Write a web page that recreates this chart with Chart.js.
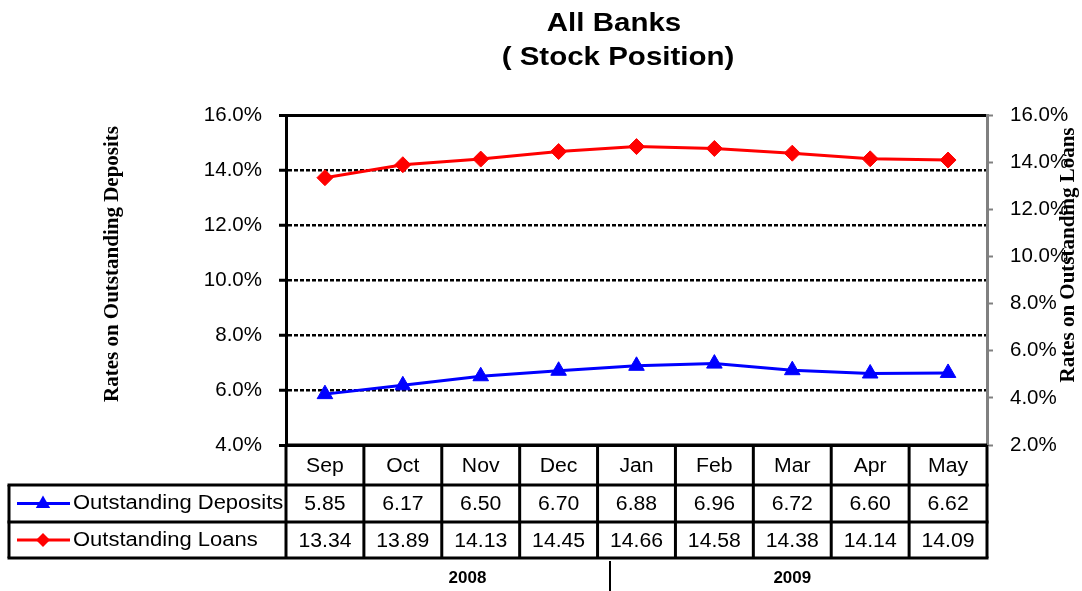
<!DOCTYPE html>
<html>
<head>
<meta charset="utf-8">
<script src="https://cdn.jsdelivr.net/npm/chart.js@4/dist/chart.umd.min.js"></script>
<style>
html,body{margin:0;padding:0;background:#fff;}
canvas{display:block;}
</style>
</head>
<body>
<canvas id="c" width="1082" height="591"></canvas>
<script>
const months = ['Sep','Oct','Nov','Dec','Jan','Feb','Mar','Apr','May'];
const deposits = [5.85,6.17,6.50,6.70,6.88,6.96,6.72,6.60,6.62];
const loans = [13.34,13.89,14.13,14.45,14.66,14.58,14.38,14.14,14.09];
const depositLabels = ['5.85','6.17','6.50','6.70','6.88','6.96','6.72','6.60','6.62'];
const loanLabels = ['13.34','13.89','14.13','14.45','14.66','14.58','14.38','14.14','14.09'];
const years = ['2008','2009'];
const titleLines = ['All Banks','( Stock Position)'];
const seriesNames = ['Outstanding Deposits','Outstanding Loans'];
const leftAxisTitle = 'Rates on Outstanding Deposits';
const rightAxisTitle = 'Rates on Outstanding Loans';

function txt(ctx, s, x, y, font, align, sx) {
  ctx.save();
  ctx.font = font;
  ctx.fillStyle = '#000';
  ctx.textAlign = align;
  ctx.textBaseline = 'middle';
  ctx.translate(x, y);
  ctx.scale(sx, 1);
  ctx.fillText(s, 0, 0);
  ctx.restore();
}
function vtxt(ctx, s, x, y, font) {
  ctx.save();
  ctx.font = font;
  ctx.fillStyle = '#000';
  ctx.textAlign = 'center';
  ctx.textBaseline = 'middle';
  ctx.translate(x, y);
  ctx.rotate(-Math.PI / 2);
  ctx.fillText(s, 0, 0);
  ctx.restore();
}
function line(ctx, x1, y1, x2, y2, w, color) {
  ctx.save();
  ctx.beginPath();
  ctx.lineWidth = w;
  ctx.strokeStyle = color || '#000';
  ctx.moveTo(x1, y1);
  ctx.lineTo(x2, y2);
  ctx.stroke();
  ctx.restore();
}

const extrasPlugin = {
  id: 'extras',
  afterDraw(chart) {
    const ctx = chart.ctx;
    const ca = chart.chartArea;
    const xs = chart.scales.x;
    const n = months.length;
    const cw = (ca.right - ca.left) / n;
    // titles
    txt(ctx, titleLines[0], 614, 24, 'bold 25px Arial, "Liberation Sans", sans-serif', 'center', 1.18);
    txt(ctx, titleLines[1], 618, 58, 'bold 25px Arial, "Liberation Sans", sans-serif', 'center', 1.18);
    // axis titles
    vtxt(ctx, leftAxisTitle, 113, 264, 'bold 21px "Times New Roman", "Liberation Serif", serif');
    vtxt(ctx, rightAxisTitle, 1069, 255, 'bold 21px "Times New Roman", "Liberation Serif", serif');

    // table
    const top = ca.bottom;
    const r1 = top + 40, r2 = r1 + 37, r3 = r2 + 36;
    const legL = 9;
    const font = '20px Arial, "Liberation Sans", sans-serif';
    line(ctx, legL - 1.5, r1, ca.right + 1.5, r1, 3);
    line(ctx, legL - 1.5, r2, ca.right + 1.5, r2, 3);
    line(ctx, legL - 1.5, r3, ca.right + 1.5, r3, 3);
    line(ctx, ca.left, top, ca.right, top, 3);
    line(ctx, legL, r1, legL, r3, 3);
    for (let k = 0; k <= n; k++) {
      const xx = ca.left + k * cw;
      line(ctx, xx, top, xx, r3, 3);
    }
    for (let i = 0; i < n; i++) {
      const cx = xs.getPixelForValue(i);
      txt(ctx, months[i], cx, (top + r1) / 2 + 1, font, 'center', 1.06);
      txt(ctx, depositLabels[i], cx, (r1 + r2) / 2 + 1, font, 'center', 1.06);
      txt(ctx, loanLabels[i], cx, (r2 + r3) / 2 + 1, font, 'center', 1.06);
    }
    // legend keys
    const ds = chart.data.datasets;
    const rows = [(r1 + r2) / 2, (r2 + r3) / 2];
    for (let j = 0; j < 2; j++) {
      const y = rows[j];
      const col = ds[j].borderColor;
      line(ctx, 17, y, 70, y, 3, col);
      ctx.save();
      ctx.fillStyle = col;
      ctx.beginPath();
      if (j === 0) {
        const r = 8;
        ctx.moveTo(43, y - r);
        ctx.lineTo(43 + r * 0.9, y + r * 0.55);
        ctx.lineTo(43 - r * 0.9, y + r * 0.55);
      } else {
        const r = 7;
        ctx.moveTo(43, y - r);
        ctx.lineTo(43 + r, y);
        ctx.lineTo(43, y + r);
        ctx.lineTo(43 - r, y);
      }
      ctx.closePath();
      ctx.fill();
      ctx.restore();
      txt(ctx, seriesNames[j], 73, y, font, 'left', 1.1);
    }
    // years
    const janLeft = ca.left + 4 * cw;
    const sepX = janLeft + cw * 0.16;
    line(ctx, sepX, r3 + 3, sepX, 591, 2);
    const y2008 = (xs.getPixelForValue(0) + sepX) / 2;
    const y2009 = (xs.getPixelForValue(4) + xs.getPixelForValue(8)) / 2;
    txt(ctx, years[0], y2008, 579, 'bold 16px Arial, "Liberation Sans", sans-serif', 'center', 1.06);
    txt(ctx, years[1], y2009, 579, 'bold 16px Arial, "Liberation Sans", sans-serif', 'center', 1.06);
  }
};

const tickFont = {family: 'Arial, "Liberation Sans", sans-serif', size: 20.5};

new Chart(document.getElementById('c'), {
  type: 'line',
  data: {
    labels: months,
    datasets: [
      {
        label: seriesNames[0], data: deposits, yAxisID: 'y',
        borderColor: '#0000FF', backgroundColor: '#0000FF',
        borderWidth: 3, pointStyle: 'triangle', pointRadius: 9,
        pointBorderWidth: 1, pointHoverRadius: 9, tension: 0, clip: false
      },
      {
        label: seriesNames[1], data: loans, yAxisID: 'y2',
        borderColor: '#FF0000', backgroundColor: '#FF0000',
        borderWidth: 3, pointStyle: 'rectRot', pointRadius: 8,
        pointBorderWidth: 1, pointHoverRadius: 8, tension: 0, clip: false
      }
    ]
  },
  options: {
    responsive: false,
    animation: false,
    events: [],
    layout: {padding: {left: 0, right: 0, top: 115, bottom: 146}},
    plugins: {legend: {display: false}, title: {display: false}, tooltip: {enabled: false}},
    scales: {
      x: {display: false, offset: true},
      y: {
        position: 'left', min: 4, max: 16,
        afterFit: (s) => { s.width = 286; },
        ticks: {stepSize: 2, color: '#000', font: tickFont, padding: 17,
          callback: (v) => v.toFixed(1) + '%'},
        grid: {color: '#000', lineWidth: (c) => (c.tick && (c.tick.value === 4 || c.tick.value === 16)) ? 3 : 2.5,
          tickLength: 7, tickColor: '#000', tickWidth: 3},
        border: {display: true, color: '#000', width: 3,
          dash: (c) => (c.tick && c.tick.value !== 4 && c.tick.value !== 16) ? [4, 2] : []}
      },
      y2: {
        position: 'right', min: 2, max: 16,
        afterFit: (s) => { s.width = 95; },
        ticks: {stepSize: 2, color: '#000', font: tickFont, padding: 17,
          callback: (v) => v.toFixed(1) + '%'},
        grid: {drawOnChartArea: false, color: '#808080', tickLength: 6, tickColor: '#808080', tickWidth: 2},
        border: {display: true, color: '#808080', width: 3}
      }
    }
  },
  plugins: [extrasPlugin]
});
</script>
</body>
</html>
